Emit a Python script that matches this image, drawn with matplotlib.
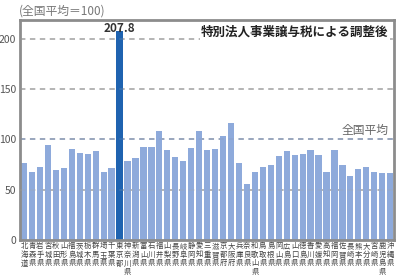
import matplotlib
matplotlib.use('Agg')
from matplotlib import pyplot as plt

plt.rcParams['font.family'] = ['Noto Sans CJK JP', 'DejaVu Sans']

prefs = ['北海道', '青森県', '岩手県', '宮城県', '秋田県', '山形県', '福島県',
         '茨城県', '栃木県', '群馬県', '埼玉県', '千葉県', '東京都', '神奈川県',
         '新潟県', '富山県', '石川県', '福井県', '山梨県', '長野県', '岐阜県',
         '静岡県', '愛知県', '三重県', '滋賀県', '京都府', '大阪府', '兵庫県',
         '奈良県', '和歌山県', '鳥取県', '島根県', '岡山県', '広島県', '山口県',
         '徳島県', '香川県', '愛媛県', '高知県', '福岡県', '佐賀県', '長崎県',
         '熊本県', '大分県', '宮崎県', '鹿児島県', '沖縄県']
values = [77, 68, 72.5, 94, 70, 72, 91, 87, 86, 89, 68, 71.5, 207.8, 79,
          82, 93, 92.5, 108, 90, 83, 79, 92, 108, 90, 91, 103, 116, 77,
          56, 68, 72.5, 75, 84, 89, 85, 85.5, 90, 85, 67.5, 90, 75, 64,
          71, 73, 68, 67, 67]
highlight = '東京都'
grid_values = [50, 100, 150, 200]

bar_color = '#8eaadb'
top_color = '#1f63b0'
frame_color = '#8c8c8c'

fig = plt.figure(figsize=(4.18, 2.80), dpi=100)
ax = fig.add_axes([0.048, 0.143, 0.895, 0.786])

x = list(range(len(prefs)))
colors = [top_color if p == highlight else bar_color for p in prefs]
ax.bar(x, values, width=0.78, color=colors, zorder=2)

# dashed guide lines, drawn under the bars and faintly over them
for g in grid_values:
    c = '#8594b0' if g == 100 else '#a6a6a6'
    ax.axhline(g, color=c, lw=1.1, ls=(0, (3.5, 3)), zorder=1)
    ax.axhline(g, color=c, lw=1.1, ls=(0, (3.5, 3)), zorder=3, alpha=0.25)

ax.set_xlim(-0.5, len(prefs) - 0.5)
ax.set_ylim(0, 219)
ax.set_yticks([0, 50, 100, 150, 200])
ax.tick_params(axis='y', length=0, pad=3, labelsize=7.5, labelcolor='#555555')
ax.set_xticks(x)
ax.set_xticklabels(['\n'.join(p) for p in prefs], fontsize=5.3,
                   color='#444444', linespacing=1.12, va='top')
ax.tick_params(axis='x', length=0, pad=1.5)

for s in ax.spines.values():
    s.set_color(frame_color)
    s.set_linewidth(2)

i = prefs.index(highlight)
ax.text(i, values[i] + 3, f'{values[i]:.1f}', ha='center', va='center',
        fontsize=8.5, fontweight='bold', color='#333333')
ax.text(0.985, 0.975, '特別法人事業譲与税による調整後', transform=ax.transAxes,
        ha='right', va='top', fontsize=9, fontweight='bold', color='#222222',
        bbox=dict(facecolor='white', edgecolor='none', pad=1))
ax.text(len(prefs) - 1.2, 102, '全国平均', ha='right', va='bottom',
        fontsize=8.5, color='#666666')

fig.text(0.045, 0.96, '(全国平均＝100)', ha='left', va='center',
         fontsize=8.5, color='#777777')

plt.savefig('out.png', dpi=100)
